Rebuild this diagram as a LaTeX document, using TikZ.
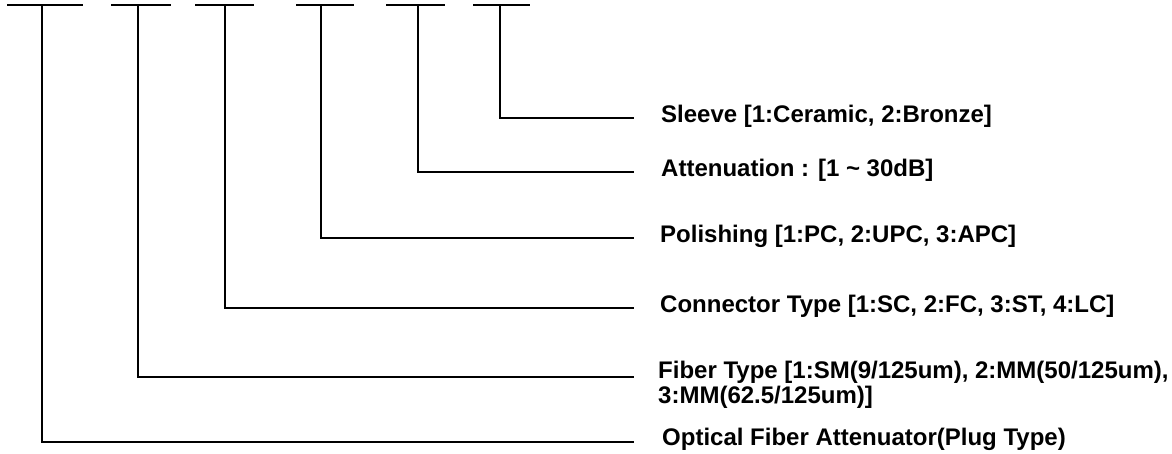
\documentclass[tikz,border=0pt]{standalone}
\usepackage{fontspec}
\setmainfont{Liberation Sans}
\begin{document}
\begin{tikzpicture}[x=1pt,y=-1pt,
  wire/.style={line width=2.6pt,line cap=rect,line join=miter},
  lab/.style={anchor=west,inner sep=0pt,font=\fontsize{24}{25}\selectfont\bfseries,align=left}]
\useasboundingbox (0,0) rectangle (1172,454);
% top bars
\coordinate (b1l) at (8,5);   \coordinate (b1r) at (82,5);  \coordinate (t1) at (42,5);
\coordinate (b2l) at (112,5); \coordinate (b2r) at (170,5); \coordinate (t2) at (138,5);
\coordinate (b3l) at (196,5); \coordinate (b3r) at (253,5); \coordinate (t3) at (225,5);
\coordinate (b4l) at (297,5); \coordinate (b4r) at (353,5); \coordinate (t4) at (321,5);
\coordinate (b5l) at (387,5); \coordinate (b5r) at (444,5); \coordinate (t5) at (418,5);
\coordinate (b6l) at (474,5); \coordinate (b6r) at (529,5); \coordinate (t6) at (500,5);
\foreach \i in {1,...,6} {\draw[wire] (b\i l) -- (b\i r);}
% labels
\node[lab] (sleeve) at (661,116) {Sleeve [1:Ceramic, 2:Bronze]};
\node[lab] (att) at (661,170) {Attenuation : [1 \textasciitilde{} 30dB]};
\node[lab] (pol) at (660,236) {Polishing [1:PC, 2:UPC, 3:APC]};
\node[lab] (con) at (660,306) {Connector Type [1:SC, 2:FC, 3:ST, 4:LC]};
\node[lab,anchor=north west] (fib) at (658,361) {Fiber Type [1:SM(9/125um), 2:MM(50/125um),\\3:MM(62.5/125um)]};
\node[lab] (opt) at (662,439) {Optical Fiber Attenuator(Plug Type)};
% line ends
\coordinate (e6) at (633,118);
\coordinate (e5) at (633,172);
\coordinate (e4) at (633,238);
\coordinate (e3) at (633,308);
\coordinate (e2) at (633,377);
\coordinate (e1) at (633,442);
\draw[wire] (t6) |- (e6);
\draw[wire] (t5) |- (e5);
\draw[wire] (t4) |- (e4);
\draw[wire] (t3) |- (e3);
\draw[wire] (t2) |- (e2);
\draw[wire] (t1) |- (e1);
\end{tikzpicture}
\end{document}
